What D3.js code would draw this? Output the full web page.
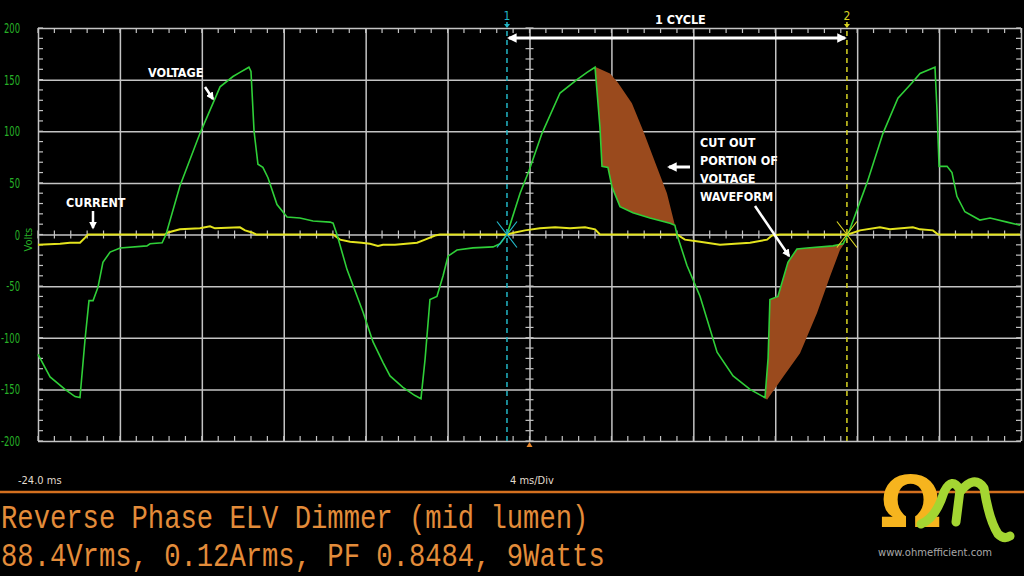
<!DOCTYPE html>
<html>
<head>
<meta charset="utf-8">
<script src="https://d3js.org/d3.v7.min.js"></script>
<style>
  body { margin: 0; background: #000; }
  svg { display: block; }
  .grid line { stroke: #c4c4c4; stroke-width: 1.5; }
  .grid path { display: none; }
  .minor { stroke: #c4c4c4; stroke-width: 1.2; }
  .note { fill: #fff; font-family: "DejaVu Sans Condensed", "DejaVu Sans", sans-serif; font-weight: bold; font-size: 12.5px; }
  .scope { fill: #e2dccf; font-family: "Liberation Sans Narrow", "DejaVu Sans Condensed", sans-serif; font-size: 11px; }
  .title { fill: #e38c3a; font-family: "Liberation Mono", "DejaVu Sans Mono", monospace; font-size: 27.2px; }
</style>
</head>
<body>
<div id="scope"></div>
<script>
// screen of the scope: 12 divisions of 4 ms, 8 divisions of 50 V
var margin = {top: 28, right: 3, bottom: 135, left: 38}
  , width = 1024 - margin.left - margin.right
  , height = 576 - margin.top - margin.bottom;

// time in ms, value in volts
var voltageTime = [-24.00, -23.41, -22.68, -22.19, -21.95, -21.70, -21.51, -21.31, -21.07, -20.83,
  -20.48, -19.99, -18.68, -18.53, -17.94, -17.75, -17.07, -16.09, -15.11, -14.48,
  -14.14, -13.70, -13.60, -13.45, -13.26, -13.02, -12.77, -12.33, -11.84, -11.21,
  -10.57, -9.74, -9.59, -9.40, -8.91, -8.13, -7.64, -7.15, -6.81, -6.18,
  -5.59, -5.30, -5.10, -4.86, -4.52, -4.22, -3.98, -3.54, -2.76, -1.78,
  -1.44, -1.10, -0.46, -0.02, 0.61, 1.49, 2.32, 2.81, 3.20, 3.44,
  3.54, 3.83, 4.03, 4.42, 5.05, 5.88, 6.86, 7.10, 7.20, 7.69,
  8.33, 9.16, 9.94, 10.77, 11.50, 11.65, 11.74, 12.13, 12.62, 13.06,
  13.55, 14.82, 15.31, 15.55, 16.48, 17.26, 17.99, 18.68, 19.07, 19.56,
  19.80, 19.90, 20.00, 20.39, 20.63, 20.87, 21.26, 21.99, 22.49, 23.32, 23.95]
var voltageValue = [-116, -138, -150, -157, -158, -101, -64, -64, -51, -27,
  -17, -13, -11, -9, -8, 0, 47, 98, 143, 153,
  157, 162, 158, 100, 68, 65, 55, 29, 17, 16,
  13, 12, 11, 0, -34, -75, -104, -124, -137, -148,
  -156, -159, -121, -63, -60, -40, -21, -15, -13, -12,
  -9, 0, 40, 62, 98, 137, 150, 157, 162, 104,
  66, 65, 46, 27, 21, 16, 11, 9, 0, -30,
  -60, -114, -137, -150, -158, -120, -63, -60, -27, -14,
  -13, -11, -9, 0, 50, 98, 132, 147, 156, 160,
  162, 120, 66, 66, 60, 37, 22, 14, 16, 12, 9]

var currentTime = [-24.00, -22.92, -22.44, -21.95, -21.70, -21.56, -19.80, -17.80, -17.65, -17.07,
  -16.09, -15.60, -15.36, -14.14, -13.89, -13.55, -13.35, -11.20, -9.59, -9.25,
  -8.76, -8.20, -7.79, -7.40, -7.15, -6.57, -5.49, -5.10, -4.61, -4.37,
  -2.50, -1.44, -1.10, -0.71, -0.22, 0.51, 1.25, 1.98, 2.71, 3.20,
  3.44, 5.40, 7.20, 7.59, 8.33, 9.30, 10.03, 10.77, 11.60, 11.84,
  12.23, 14.00, 15.55, 16.14, 17.11, 17.60, 18.72, 19.07, 19.70, 19.95, 23.95]
var currentValue = [-10, -9, -8, -8, -3, 0, 0, 0, 2, 5,
  6, 8, 6, 7, 4, 2, 0, 0, 0, -5,
  -7, -8, -9, -11, -10, -10, -8, -5, -1, 0,
  0, 0, 0, 2, 4, 6, 7, 6, 7, 5,
  0, 0, 0, -5, -7, -10, -9, -8, -5, -1,
  0, 0, 0, 4, 7, 5, 7, 5, 4, 0, 0]

// edge of the uncut sine where the dimmer chops the waveform
var cutPosTime = [7.10, 6.71, 6.23, 5.54, 5.00, 4.32, 3.93, 3.25]
var cutPosValue = [9, 40, 65, 101, 127, 147, 156, 162]
var cutNegTime = [15.40, 15.16, 14.67, 14.04, 13.21, 12.38, 11.60]
var cutNegValue = [-8, -15, -41, -76, -115, -138, -160]

var cursorTime = [-1.10, 15.50]
var cursorLabels = ["1", "2"]
var cursorColors = ["#22b6c6", "#d8d422"]

var yTicks = [-200, -150, -100, -50, 0, 50, 100, 150, 200]
var xDivs = [-24, -20, -16, -12, -8, -4, 0, 4, 8, 12, 16, 20, 24]

var titleLines = ["Reverse Phase ELV Dimmer (mid lumen)", "88.4Vrms, 0.12Arms, PF 0.8484, 9Watts"]

var voltage = voltageTime.map(function(t, i) { return {x: t, y: voltageValue[i]}; })
var current = currentTime.map(function(t, i) { return {x: t, y: currentValue[i]}; })

var xScale = d3.scaleLinear().domain([-24, 24]).range([0, width]);
var yScale = d3.scaleLinear().domain([-200, 200]).range([height, 0]);

var line_generator = d3.line()
    .x(function(d) { return xScale(d.x); })
    .y(function(d) { return yScale(d.y); })

var root = d3.select("#scope").append("svg")
    .attr("width", 1024)
    .attr("height", 576)
    .style("background", "#000");

var svg = root.append("g")
    .attr("transform", "translate(" + margin.left + "," + margin.top + ")");

// grid
svg.append("g")
    .attr("class", "grid")
    .attr("transform", "translate(0," + height + ")")
    .call(d3.axisBottom(xScale).tickValues(xDivs).tickSize(height).tickSizeOuter(0).tickFormat(""))
    .selectAll("line").attr("transform", "translate(0," + (-height) + ")");
svg.append("g")
    .attr("class", "grid")
    .call(d3.axisLeft(yScale).tickValues(yTicks).tickSize(-width).tickSizeOuter(0).tickFormat(""));

// minor ticks, 5 per division
var minorX = d3.range(-24, 24.001, 0.8)
var minorY = d3.range(-200, 200.001, 10)
function hTicks(y0, y1) {
  svg.append("g").selectAll("line").data(minorX).enter().append("line")
      .attr("class", "minor")
      .attr("x1", function(d) { return xScale(d); }).attr("x2", function(d) { return xScale(d); })
      .attr("y1", y0).attr("y2", y1);
}
function vTicks(x0, x1) {
  svg.append("g").selectAll("line").data(minorY).enter().append("line")
      .attr("class", "minor")
      .attr("y1", function(d) { return yScale(d); }).attr("y2", function(d) { return yScale(d); })
      .attr("x1", x0).attr("x2", x1);
}
hTicks(0, 5)
hTicks(height, height - 5)
hTicks(yScale(0) - 4, yScale(0) + 4)
vTicks(0, 5)
vTicks(width, width - 5)
vTicks(xScale(0) - 4, xScale(0) + 4)

// y labels, squeezed like the scope's narrow font
root.append("g").selectAll("text").data(yTicks).enter().append("text")
    .attr("transform", function(d) { return "translate(20," + (margin.top + yScale(d) + 5) + ") scale(0.72,1.1)"; })
    .attr("text-anchor", "end")
    .style("fill", "#27b227")
    .style("font-family", "'DejaVu Sans Condensed', sans-serif")
    .style("font-size", "13px")
    .text(function(d) { return d < 0 ? "-" + Math.abs(d) : d; });
root.append("text")
    .attr("transform", "translate(32," + (margin.top + yScale(-5)) + ") rotate(-90)")
    .attr("text-anchor", "middle")
    .style("fill", "#27b227")
    .style("font-family", "'DejaVu Sans Condensed', sans-serif")
    .style("font-size", "11px")
    .text("Volts");

// cut out portions
function cutArea(t0, t1, edgeT, edgeV) {
  var pts = voltage.filter(function(d) { return d.x >= t0 && d.x <= t1; })
  edgeT.forEach(function(t, i) { pts.push({x: t, y: edgeV[i]}); })
  svg.append("path")
      .datum(pts)
      .attr("d", line_generator(pts) + "Z")
      .attr("fill", "#9a4a1d")
      .attr("stroke", "none");
}
cutArea(3.20, 7.10, cutPosTime, cutPosValue)
cutArea(11.50, 15.31, cutNegTime, cutNegValue)

// traces
svg.append("path")
    .datum(current)
    .attr("d", line_generator)
    .attr("fill", "none")
    .attr("stroke", "#e4e41e")
    .attr("stroke-width", 2);
svg.append("path")
    .datum(voltage)
    .attr("d", line_generator)
    .attr("fill", "none")
    .attr("stroke", "#2fcf38")
    .attr("stroke-width", 1.6);

// cursors
cursorTime.forEach(function(t, i) {
  var cx = xScale(t), cy = yScale(0)
  svg.append("line")
      .attr("x1", cx).attr("x2", cx).attr("y1", -6).attr("y2", height)
      .attr("stroke", cursorColors[i]).attr("stroke-width", 1.5)
      .attr("stroke-dasharray", "5,4");
  svg.append("path")
      .attr("d", "M" + (cx - 10) + "," + (cy - 13) + "L" + (cx + 10) + "," + (cy + 13) +
                 "M" + (cx - 10) + "," + (cy + 13) + "L" + (cx + 10) + "," + (cy - 13))
      .attr("stroke", cursorColors[i]).attr("stroke-width", 1.2);
  svg.append("path")
      .attr("d", "M" + (cx - 3) + ",-4L" + (cx + 3) + ",-4L" + cx + ",0Z")
      .attr("fill", cursorColors[i]);
  svg.append("text")
      .attr("x", cx).attr("y", -8)
      .attr("text-anchor", "middle")
      .style("fill", cursorColors[i])
      .style("font-family", "'DejaVu Sans Condensed', sans-serif")
      .style("font-size", "12px")
      .text(cursorLabels[i]);
});

// trigger marker
svg.append("path")
    .attr("d", "M" + (xScale(0) - 3) + "," + (height + 6) + "L" + (xScale(0) + 3) + "," + (height + 6) + "L" + xScale(0) + "," + (height + 1) + "Z")
    .attr("fill", "#e8862a");

// arrows
var defs = root.append("defs")
defs.append("marker")
    .attr("id", "head")
    .attr("viewBox", "0 0 10 10")
    .attr("refX", 8).attr("refY", 5)
    .attr("markerWidth", 3.2).attr("markerHeight", 3.2)
    .attr("orient", "auto-start-reverse")
  .append("path")
    .attr("d", "M0,0L10,5L0,10Z")
    .attr("fill", "#fff");

function arrow(x1, y1, x2, y2, w, both) {
  var a = root.append("line")
      .attr("x1", x1).attr("y1", y1).attr("x2", x2).attr("y2", y2)
      .attr("stroke", "#fff").attr("stroke-width", w)
      .attr("marker-end", "url(#head)");
  if (both) a.attr("marker-start", "url(#head)");
}
arrow(margin.left + xScale(cursorTime[0]) + 2, 38, margin.left + xScale(cursorTime[1]) - 2, 38, 3, true)
arrow(205, 87, 213, 99, 2.5)
arrow(93, 211, 93, 228, 2.5)
arrow(690, 167, 669, 167, 3)
arrow(755, 206, 789, 256, 2.5)

// notes
function note(x, y, s) {
  root.append("text").attr("class", "note").attr("x", x).attr("y", y).text(s);
}
note(655, 24, "1 CYCLE")
note(148, 77, "VOLTAGE")
note(66, 207, "CURRENT")
note(700, 147, "CUT OUT")
note(700, 165, "PORTION OF")
note(700, 183, "VOLTAGE")
note(700, 201, "WAVEFORM")

// scope footer
root.append("text").attr("class", "scope").attr("x", 18).attr("y", 484).text("-24.0 ms");
root.append("text").attr("class", "scope").attr("x", 510).attr("y", 484).text("4 ms/Div");

root.append("line")
    .attr("x1", 0).attr("x2", 1024).attr("y1", 492).attr("y2", 492)
    .attr("stroke", "#d4701f").attr("stroke-width", 2.5);

titleLines.forEach(function(s, i) {
  root.append("text")
      .attr("class", "title")
      .attr("transform", "translate(1," + (528 + i * 38) + ") scale(1,1.2)")
      .text(s);
});

// logo
var logo = root.append("g")
logo.append("text")
    .attr("x", 880).attr("y", 527)
    .style("fill", "#f6b41e")
    .style("font-family", "'DejaVu Sans', sans-serif")
    .style("font-weight", "bold")
    .style("font-size", "72px")
    .text("Ω");
logo.append("path")
    .attr("d", "M921,524 Q936,518 944,492 Q952,476 960,490 L956,522 M960,492 Q974,474 984,488 Q989,520 998,534 Q1004,540 1010,536")
    .attr("fill", "none")
    .attr("stroke", "#a4d632")
    .attr("stroke-width", 9)
    .attr("stroke-linecap", "round")
    .attr("stroke-linejoin", "round");
logo.append("text")
    .attr("x", 878).attr("y", 556)
    .style("fill", "#a8a8a8")
    .style("font-family", "'DejaVu Sans', sans-serif")
    .style("font-size", "10px")
    .text("www.ohmefficient.com");
</script>
</body>
</html>
